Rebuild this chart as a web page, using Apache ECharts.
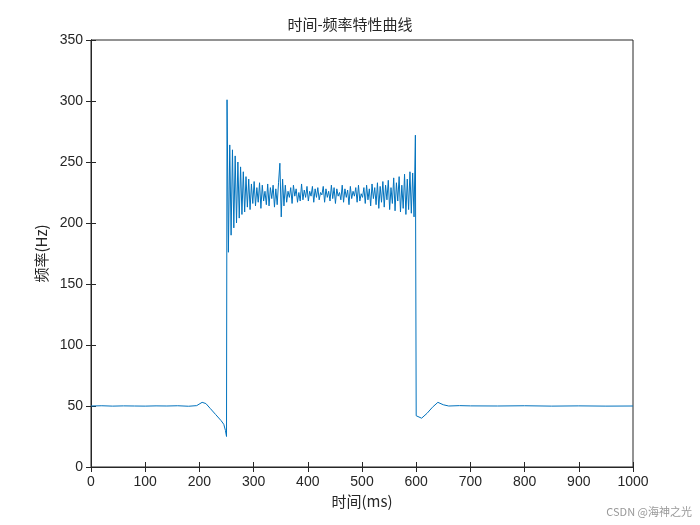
<!DOCTYPE html>
<html><head><meta charset="utf-8">
<script src="https://cdn.jsdelivr.net/npm/echarts@6/dist/echarts.min.js"></script>
<style>body{margin:0}#c{width:700px;height:525px}</style></head>
<body><div id="c"></div>
<script>
const preTimes=[0,20,40,60,80,100,120,140,160,180,195,205,212,220,230,240,245,248,250];
const preVals=[50,50.2,49.9,50.1,50,49.9,50.1,50,50.2,49.8,50.3,53,52,48,43,38,35,30,25];
const oscStart=251, oscStep=2.5;
const oscVals=[301,176,264,190,260,196,255,200,250,204,
246,207,242,209,238,213,236,211,232,216,
234,214,229,217,233,212,231,218,226,215,
232,214,229,220,231,213,228,215,233,249,
205,236,214,231,217,226,221,229,216,231,
222,228,217,225,218,232,219,227,221,230,
218,226,222,230,217,228,221,229,219,225,
223,230,217,228,221,226,218,231,220,229,
216,228,222,225,219,231,217,228,221,227,
215,230,220,226,222,229,217,231,218,224,
221,229,216,231,219,228,214,232,220,229,
215,233,212,230,217,234,213,231,219,235,
211,229,216,237,210,233,218,238,209,231,
212,240,207,236,211,242,208,241,205,272];
const postTimes=[600,603,610,620,630,640,650,660,680,700,750,800,850,900,950,1000];
const postVals=[42,41,40,44,49,53,51,50,50.3,50.1,50,50.2,49.9,50.1,49.9,50];
const data=[];
preTimes.forEach((t,i)=>data.push([t,preVals[i]]));
oscVals.forEach((v,i)=>data.push([oscStart+i*oscStep,v]));
postTimes.forEach((t,i)=>data.push([t,postVals[i]]));
const font='"Noto Sans CJK SC", sans-serif';
const ax={axisLine:{lineStyle:{color:'#262626'}},axisTick:{inside:true,length:5,lineStyle:{color:'#262626'}},
 axisLabel:{color:'#262626',fontSize:14,fontFamily:'Liberation Sans, Arial',formatter:v=>String(v)},splitLine:{show:false},
 nameLocation:'middle',nameTextStyle:{color:'#262626',fontSize:15,fontFamily:font}};
const c=echarts.init(document.getElementById('c'));
c.setOption({animation:false,
 title:{text:'时间-频率特性曲线',left:'center',top:12,textStyle:{fontSize:15,fontWeight:'normal',color:'#262626',fontFamily:font}},
 grid:{left:91,right:67,top:40,bottom:58,show:true,borderColor:'#262626',borderWidth:1},
 xAxis:[Object.assign({type:'value',min:0,max:1000,interval:100,name:'时间(ms)',nameGap:26},ax),
        Object.assign({type:'value',position:'top',min:0,max:1000,interval:100},ax,{axisLabel:{show:false}})],
 yAxis:[Object.assign({type:'value',min:0,max:350,interval:50,name:'频率(Hz)',nameGap:34},ax),
        Object.assign({type:'value',position:'right',min:0,max:350,interval:50},ax,{axisLabel:{show:false}})],
 series:[{type:'line',data:data,showSymbol:false,lineStyle:{color:'#0072BD',width:1},itemStyle:{color:'#0072BD'}}],
 graphic:[{type:'text',right:8,bottom:8,style:{text:'CSDN @海神之光',fill:'#999',fontSize:11,fontFamily:font}}]
});
</script></body></html>
